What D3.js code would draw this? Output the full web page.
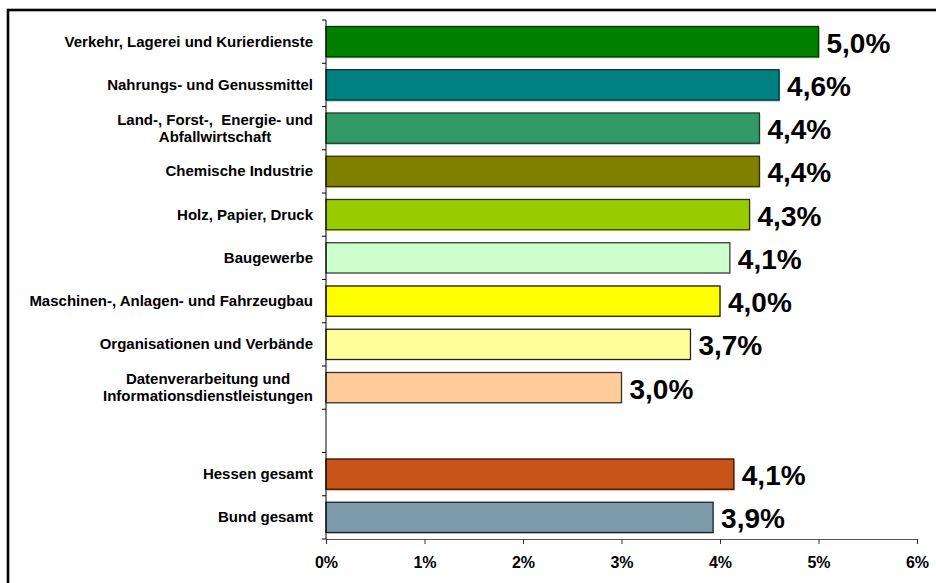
<!DOCTYPE html>
<html>
<head>
<meta charset="utf-8">
<script src="https://cdn.jsdelivr.net/npm/d3@7"></script>
<style>
  body { margin: 0; background: #fff; }
  text { font-family: Arial, "Liberation Sans", sans-serif; font-weight: bold; fill: #000; }
</style>
</head>
<body>
<div class="chart"></div>
<script>
var width = 936, height = 583;

// data
var categories = [
  ["Verkehr, Lagerei und Kurierdienste"],
  ["Nahrungs- und Genussmittel"],
  ["Land-, Forst-,  Energie- und", "Abfallwirtschaft"],
  ["Chemische Industrie"],
  ["Holz, Papier, Druck"],
  ["Baugewerbe"],
  ["Maschinen-, Anlagen- und Fahrzeugbau"],
  ["Organisationen und Verbände"],
  ["Datenverarbeitung und", "Informationsdienstleistungen"],
  [],
  ["Hessen gesamt"],
  ["Bund gesamt"]
];
var values = [5.0, 4.6, 4.4, 4.4, 4.3, 4.1, 4.0, 3.7, 3.0, null, 4.14, 3.93];
var valueLabels = ["5,0%", "4,6%", "4,4%", "4,4%", "4,3%", "4,1%", "4,0%", "3,7%", "3,0%", "", "4,1%", "3,9%"];
var fills = ["#008000", "#008080", "#339966", "#808000", "#99cc00", "#ccffcc", "#ffff00", "#ffff99", "#ffcc99", null, "#c85517", "#7b9aaa"];
var strokes = ["#003300", "#003333", "#1f3d2b", "#333300", "#333300", "#3a3a3a", "#1a1a00", "#222", "#333", null, "#331100", "#222"];
var xTicks = [0, 1, 2, 3, 4, 5, 6];

var margin = {left: 326, top: 20, right: 19, bottom: 44};

var svg = d3.select(".chart")
    .append("svg")
    .attr("width", width)
    .attr("height", height);

// frame (cut off on right and bottom like the original)
svg.append("rect")
    .attr("x", 8).attr("y", 10)
    .attr("width", 1000).attr("height", 700)
    .attr("fill", "none")
    .attr("stroke", "#000")
    .attr("stroke-width", 2.6);

var x = d3.scaleLinear().domain([0, 6]).range([margin.left, width - margin.right]);
var y = d3.scaleBand()
    .domain(d3.range(categories.length))
    .range([margin.top, height - margin.bottom])
    .paddingInner(0.3)
    .paddingOuter(0.15);

var rows = d3.range(values.length).filter(function(i) { return values[i] != null; });

// little light shadow under each bar
svg.selectAll("rect.shadow")
    .data(rows)
    .enter().append("rect")
    .attr("class", "shadow")
    .attr("x", x(0) + 1)
    .attr("y", function(i) { return y(i) + 1.5; })
    .attr("width", function(i) { return x(values[i]) - x(0); })
    .attr("height", y.bandwidth())
    .attr("fill", function(i) { return d3.color(fills[i]).brighter(0.8); })
    .attr("opacity", 0.6);

svg.selectAll("rect.bar")
    .data(rows)
    .enter().append("rect")
    .attr("class", "bar")
    .attr("x", x(0))
    .attr("y", function(i) { return y(i); })
    .attr("width", function(i) { return x(values[i]) - x(0); })
    .attr("height", y.bandwidth())
    .attr("fill", function(i) { return fills[i]; })
    .attr("stroke", function(i) { return strokes[i]; })
    .attr("stroke-width", 1.3);

// value labels
svg.selectAll("text.val")
    .data(rows)
    .enter().append("text")
    .attr("class", "val")
    .attr("x", function(i) { return x(values[i]) + 8; })
    .attr("y", function(i) { return y(i) + y.bandwidth() / 2 + 11; })
    .style("font-size", "28px")
    .text(function(i) { return valueLabels[i]; });

// y axis line + ticks at band boundaries
var yTop = margin.top, yBottom = height - margin.bottom;
svg.append("line")
    .attr("x1", x(0)).attr("x2", x(0))
    .attr("y1", yTop).attr("y2", yBottom)
    .attr("stroke", "#000");
svg.selectAll("line.ytick")
    .data(d3.range(categories.length + 1))
    .enter().append("line")
    .attr("class", "ytick")
    .attr("x1", x(0) - 4).attr("x2", x(0))
    .attr("y1", function(i) { return yTop + i * y.step(); })
    .attr("y2", function(i) { return yTop + i * y.step(); })
    .attr("stroke", "#000");

// category labels (multi-line labels centred on each other, block right-aligned)
var labelRight = 313;
categories.forEach(function(lines, i) {
  if (!lines.length) return;
  var cy = y(i) + y.bandwidth() / 2;
  var t = svg.append("text")
      .attr("text-anchor", "middle")
      .style("font-size", "15px")
      .style("white-space", "pre");
  var lh = 17;
  var y0 = cy - (lines.length - 1) * lh / 2 + 5;
  lines.forEach(function(s, k) {
    t.append("tspan").attr("y", y0 + k * lh).text(s);
  });
  var maxW = 0;
  t.selectAll("tspan").each(function() { maxW = Math.max(maxW, this.getComputedTextLength()); });
  t.selectAll("tspan").attr("x", labelRight - maxW / 2);
});

// x axis
var xAxis = svg.append("g")
    .attr("transform", "translate(0," + yBottom + ")")
    .call(d3.axisBottom(x).tickValues(xTicks).tickSize(5).tickSizeOuter(5)
        .tickFormat(function(d) { return d + "%"; }));
xAxis.select(".domain").attr("stroke", "#555").attr("stroke-width", 1.2);
xAxis.selectAll(".tick line").attr("stroke", "#333");
xAxis.selectAll(".tick text")
    .attr("dy", "0")
    .attr("y", 29)
    .style("font-size", "16px")
    .style("font-family", "Arial, 'Liberation Sans', sans-serif")
    .style("font-weight", "bold")
    .attr("fill", "#000");
</script>
</body>
</html>
